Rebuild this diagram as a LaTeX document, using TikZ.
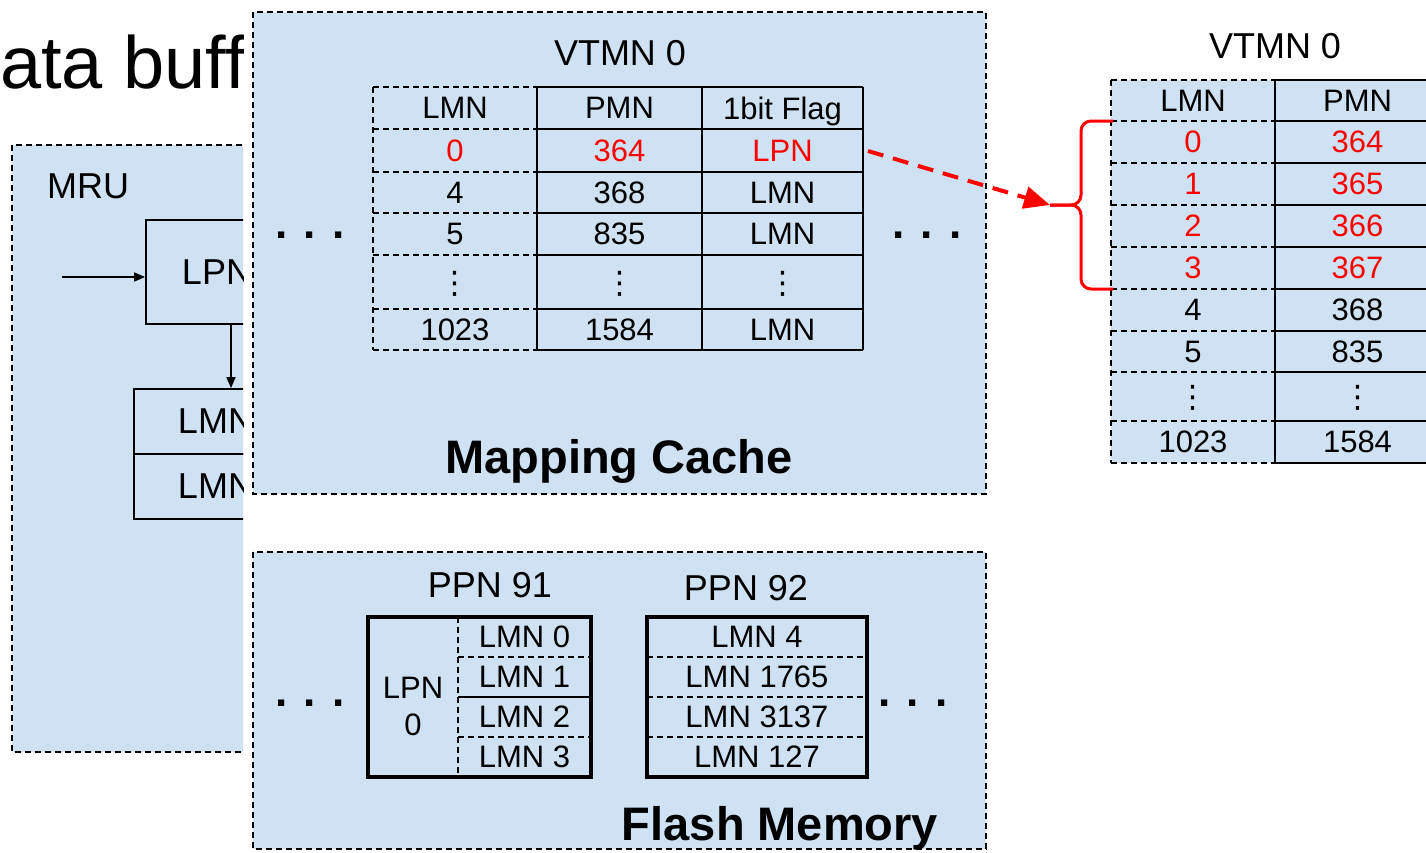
\documentclass[tikz,border=0pt]{standalone}
\usepackage{fontspec}
\setmainfont{Liberation Sans}
\newfontfamily\dotsfont{DejaVu Sans}
\usetikzlibrary{arrows.meta, positioning, calc}
\definecolor{cacheblue}{HTML}{CFE2F3}
\definecolor{hotred}{HTML}{FF0000}
\newcommand{\tabdots}{{\dotsfont ⋮}}

\begin{document}
\begin{tikzpicture}[x=1pt, y=-1pt,
    panel/.style={draw=black, fill=cacheblue, line width=1.4pt, dash pattern=on 6pt off 4pt},
    tline/.style={line width=1.6pt},
    dline/.style={line width=1.4pt, dash pattern=on 6pt off 4pt},
    pagebox/.style={line width=3.2pt},
    mrubox/.style={draw, line width=1.8pt, inner sep=0pt, font=\fontsize{36}{36}\selectfont},
    celltext/.style={inner sep=0pt, text depth=0pt, font=\fontsize{31}{31}\selectfont},
    heading/.style={inner sep=0pt, anchor=base, font=\fontsize{36}{36}\selectfont},
    banner/.style={inner sep=0pt, anchor=base, font=\fontsize{47}{47}\selectfont\bfseries},
    more/.style={inner sep=0pt, anchor=base, font=\fontsize{44}{44}\selectfont\bfseries},
    arr/.style={-{Triangle[length=11pt, width=9pt]}, line width=1.6pt},
    hotarr/.style={-{Triangle[length=26pt, width=22pt]}, draw=hotred, line width=4pt, dash pattern=on 16pt off 10pt},
    brace/.style={draw=hotred, line width=3pt, rounded corners=10pt}
]
\useasboundingbox (0,0) rectangle (1426,852);
\clip (0,0) rectangle (1426,852);

% left part, cut off at the white strip
\begin{scope}
\clip (0,0) rectangle (243,852);
\node[anchor=base west, inner sep=0pt, font=\fontsize{74}{74}\selectfont] (buf) at (0,88) {ata buff};
\draw[panel] (12,145) rectangle (330,752);
\node[heading, anchor=base west] (mru) at (47,198) {MRU};
\node[mrubox, minimum width=142pt, minimum height=104pt] (lpn) at (217,272) {LPN};
\node[mrubox, minimum width=164pt, minimum height=65pt] (lmna) at (216,421.5) {LMN};
\node[mrubox, minimum width=164pt, minimum height=65pt] (lmnb) at (216,486.5) {LMN};
\coordinate (mruin) at (62,277);
\draw[arr] (mruin) -- (mruin -| lpn.west);
\draw[arr] ([xshift=14pt]lpn.south) -- ([xshift=14pt]lpn.south |- lmna.north);
\end{scope}

% mapping cache
\draw[panel] (253,12) rectangle (986,494);
\node[heading] (vtmn) at (620,65) {VTMN 0};
\foreach \y in {87,129,172,213,255,309,350} {
  \draw[dline] (373,\y) -- (537,\y);
  \draw[tline] (537,\y) -- (863,\y);
}
\draw[dline] (373,87) -- (373,350);
\foreach \x in {537,702,863}
  \draw[tline] (\x,87) -- (\x,350);
\foreach \a/\b/\c/\yc/\col/\n in {LMN/PMN/1bit Flag/108/black/h, 0/364/LPN/150.5/hotred/a,
    4/368/LMN/192.5/black/b, 5/835/LMN/234/black/c, \tabdots/\tabdots/\tabdots/282/black/d,
    1023/1584/LMN/329.5/black/e} {
  \node[celltext, text=\col] (mlmn-\n) at (455,\yc) {\a};
  \node[celltext, text=\col] (mpmn-\n) at (619.5,\yc) {\b};
  \node[celltext, text=\col] (mflag-\n) at (782.5,\yc) {\c};
}
\node[more] (cachedotsl) at (310,238) {. . .};
\node[more] (cachedotsr) at (927,238) {. . .};
\node[banner] (cachename) at (619,473) {Mapping Cache};

% expanded VTMN
\node[heading] (vtmnx) at (1275,58) {VTMN 0};
\fill[cacheblue] (1111,80) rectangle (1440,463);
\foreach \y in {80,121,163,205,247,289,331,372,421,463} {
  \draw[dline] (1111,\y) -- (1275,\y);
  \draw[tline] (1275,\y) -- (1440,\y);
}
\draw[dline] (1111,80) -- (1111,463);
\draw[tline] (1275,80) -- (1275,463);
\foreach \a/\b/\yc/\col/\n in {LMN/PMN/100.5/black/h, 0/364/142/hotred/a, 1/365/184/hotred/b,
    2/366/226/hotred/c, 3/367/268/hotred/d, 4/368/310/black/e, 5/835/351.5/black/f,
    \tabdots/\tabdots/396.5/black/g, 1023/1584/442/black/i} {
  \node[celltext, text=\col] (xlmn-\n) at (1193,\yc) {\a};
  \node[celltext, text=\col] (xpmn-\n) at (1357.5,\yc) {\b};
}
\coordinate (bracetip) at (1050,205);
\draw[brace] (1113,121) -- (1081,121) -- (1081,205) -- (bracetip);
\draw[brace] (1113,289) -- (1081,289) -- (1081,205) -- (bracetip);
\coordinate (flagout) at (868,151);
\draw[hotarr] (flagout) -- (bracetip);

% flash memory
\draw[panel] (253,552) rectangle (986,849);
\node[heading] (ppn91) at (490,597) {PPN 91};
\node[heading] (ppn92) at (746,600) {PPN 92};
\draw[dline] (458,617) -- (458,777);
\draw[dline] (458,657) -- (591,657);
\draw[tline] (458,697) -- (591,697);
\draw[dline] (458,737) -- (591,737);
\draw[pagebox] (368,617) rectangle (591,777);
\node[celltext, anchor=base] (lpnz) at (413,698) {LPN};
\node[celltext, anchor=base] (lpnzero) at (413,735) {0};
\foreach \t/\yc/\n in {LMN 0/637/a, LMN 1/677/b, LMN 2/717/c, LMN 3/757/d}
  \node[celltext] (pa-\n) at (524.5,\yc) {\t};
\foreach \y in {657,697,737}
  \draw[dline] (647,\y) -- (867,\y);
\draw[pagebox] (647,617) rectangle (867,777);
\foreach \t/\yc/\n in {LMN 4/637/a, LMN 1765/677/b, LMN 3137/717/c, LMN 127/757/d}
  \node[celltext] (pb-\n) at (757,\yc) {\t};
\node[more] (flashdotsl) at (310,706) {. . .};
\node[more] (flashdotsr) at (913,706) {. . .};
\node[banner] (flashname) at (780,840) {Flash Memory};
\end{tikzpicture}
\end{document}
